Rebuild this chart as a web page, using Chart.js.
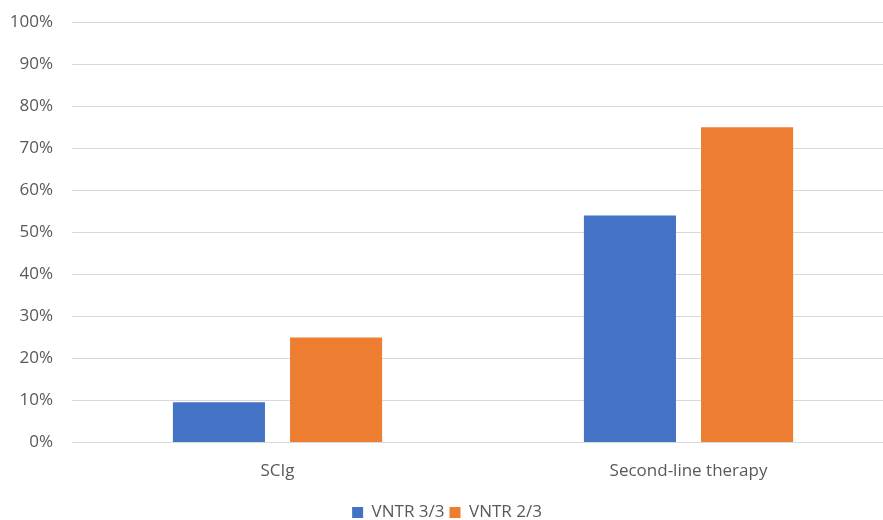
<!DOCTYPE html>
<html>
<head>
<meta charset="utf-8">
<script src="https://cdn.jsdelivr.net/npm/chart.js@4"></script>
<style>
  html, body { margin: 0; padding: 0; background: #fff; overflow: hidden; }
  #wrap { width: 920px; height: 538px; margin-top: -7px; position: relative; }
</style>
</head>
<body>
<div id="wrap"><canvas id="chart-bars-vntr"></canvas></div>
<script>
var categories = ["SCIg", "Second-line therapy"];
var vntr33 = [9.6, 54];
var vntr23 = [25, 75];
var yTicks = [0, 10, 20, 30, 40, 50, 60, 70, 80, 90, 100];

var ctx = document.getElementById("chart-bars-vntr").getContext("2d");

new Chart(ctx, {
  type: "bar",
  data: {
    labels: categories,
    datasets: [
      {
        label: "VNTR 3/3",
        backgroundColor: "#4472c4",
        borderWidth: 0,
        data: vntr33,
        categoryPercentage: 0.57,
        barPercentage: 0.786,
      },
      {
        label: "VNTR 2/3",
        backgroundColor: "#ed7d31",
        borderWidth: 0,
        data: vntr23,
        categoryPercentage: 0.57,
        barPercentage: 0.786,
      },
    ],
  },
  options: {
    responsive: true,
    maintainAspectRatio: false,
    animation: false,
    layout: {
      padding: { top: 0, right: 26, left: 0, bottom: 0 },
    },
    plugins: {
      legend: {
        position: "bottom",
        labels: {
          boxWidth: 11,
          boxHeight: 11,
          padding: 5,
          color: "#595959",
          font: { size: 17, family: "Open Sans" },
        },
      },
      tooltip: { enabled: false },
    },
    scales: {
      y: {
        min: 0,
        max: 100,
        afterBuildTicks: function (scale) {
          scale.ticks = yTicks.map(function (v) { return { value: v }; });
        },
        afterFit: function (scale) {
          scale.width = 72;
        },
        border: { display: false },
        grid: {
          color: "#d9d9d9",
          lineWidth: 1,
          drawTicks: false,
        },
        ticks: {
          padding: 19,
          color: "#595959",
          font: { size: 17, family: "Open Sans" },
          callback: function (value) {
            return value + "%";
          },
        },
      },
      x: {
        border: { display: false },
        grid: { display: false, drawTicks: false },
        ticks: {
          padding: 18,
          color: "#595959",
          font: { size: 17, family: "Open Sans" },
        },
      },
    },
  },
});
</script>
</body>
</html>
